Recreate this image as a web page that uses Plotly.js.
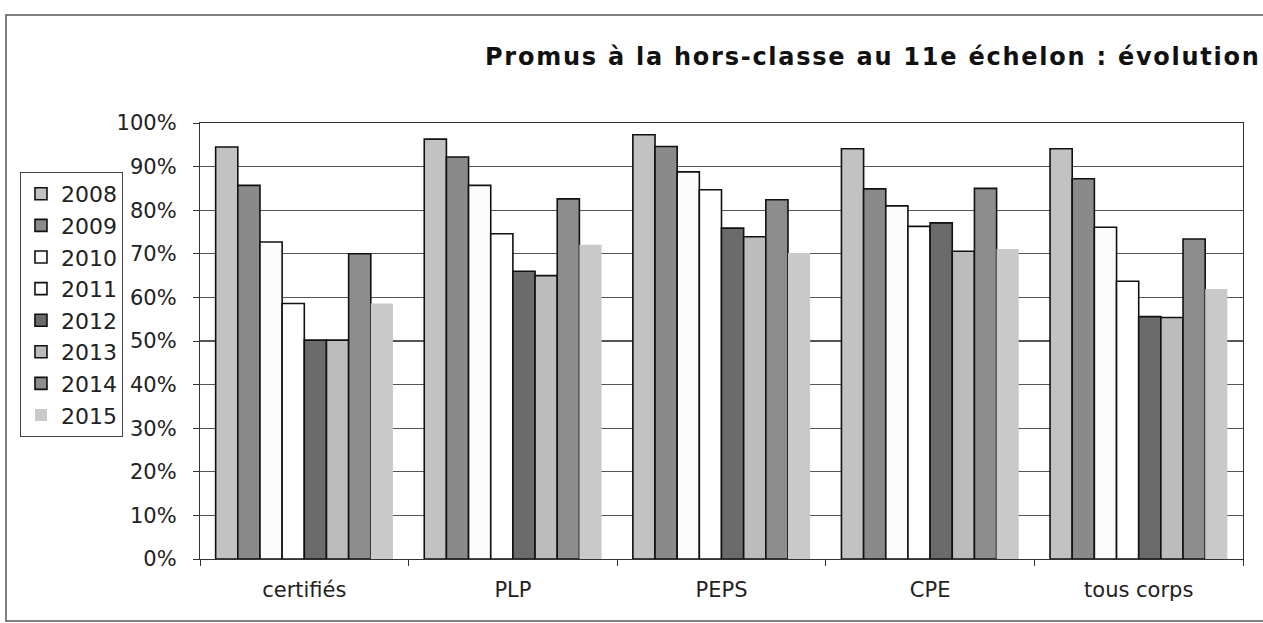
<!DOCTYPE html>
<html>
<head>
<meta charset="utf-8">
<script src="https://cdn.plot.ly/plotly-3.0.1.min.js"></script>
<style>html,body{margin:0;padding:0;background:#fff;}#chart{width:1263px;height:623px;}
#chart .gtitle{letter-spacing:1.75px;}</style>
</head>
<body>
<div id="chart"></div>
<script>
const categories = ["certifiés", "PLP", "PEPS", "CPE", "tous corps"];
const years = ["2008", "2009", "2010", "2011", "2012", "2013", "2014", "2015"];
const v2008 = [0.945, 0.963, 0.973, 0.941, 0.941];
const v2009 = [0.857, 0.922, 0.946, 0.849, 0.872];
const v2010 = [0.727, 0.857, 0.888, 0.810, 0.761];
const v2011 = [0.586, 0.746, 0.847, 0.763, 0.637];
const v2012 = [0.502, 0.660, 0.759, 0.771, 0.556];
const v2013 = [0.502, 0.650, 0.739, 0.706, 0.554];
const v2014 = [0.700, 0.826, 0.824, 0.850, 0.734];
const v2015 = [0.586, 0.721, 0.702, 0.711, 0.619];
const seriesValues = [v2008, v2009, v2010, v2011, v2012, v2013, v2014, v2015];
const fillColors = ["#c2c2c2", "#8a8a8a", "#fcfcfc", "#ffffff", "#6b6b6b", "#bcbcbc", "#8d8d8d", "#c9c9c9"];
const outlineWidths = [1.6, 1.6, 1.6, 1.6, 1.6, 1.6, 1.6, 0];

const FONT = "DejaVu Sans, Liberation Sans, Arial, sans-serif";

const traces = years.map((y, i) => ({
  type: "bar",
  name: y,
  x: categories,
  y: seriesValues[i],
  marker: { color: fillColors[i], line: { color: "#111", width: outlineWidths[i] } },
  hoverinfo: "x+y+name"
}));

const layout = {
  width: 1263,
  height: 623,
  margin: { l: 200, r: 20, t: 123, b: 64, pad: 0 },
  paper_bgcolor: "#fff",
  plot_bgcolor: "#fff",
  font: { family: FONT, size: 21, color: "#222" },
  title: {
    text: "<b>Promus à la hors-classe au 11e échelon : évolution</b>",
    font: { family: FONT, size: 24, color: "#111" },
    x: 485 / 1263, xanchor: "left", xref: "container",
    y: 1 - 57 / 623, yanchor: "middle", yref: "container"
  },
  barmode: "group",
  bargap: 0.15,
  bargroupgap: 0,
  showlegend: true,
  legend: {
    x: -0.1726, xanchor: "left", y: 0.8876, yanchor: "top",
    bgcolor: "#fff", bordercolor: "#444", borderwidth: 1,
    font: { family: FONT, size: 22, color: "#222" },
    itemwidth: 30,
    traceorder: "normal"
  },
  xaxis: {
    type: "category",
    showline: true, linecolor: "#333", linewidth: 1.2, mirror: true,
    ticks: "outside", tickson: "boundaries", ticklen: 6, tickcolor: "#333",
    showgrid: false,
    tickfont: { family: FONT, size: 21, color: "#222" },
    ticklabelstandoff: 12,
    fixedrange: true
  },
  yaxis: {
    range: [0, 1],
    dtick: 0.1,
    tickformat: ".0%",
    showline: true, linecolor: "#333", linewidth: 1.2, mirror: true,
    ticks: "outside", ticklen: 6, tickcolor: "#333",
    showgrid: true, gridcolor: "#555", gridwidth: 1.2,
    zeroline: false,
    tickfont: { family: FONT, size: 21, color: "#222" },
    ticklabelstandoff: 12,
    fixedrange: true
  },
  shapes: [
    { type: "rect", xref: "paper", yref: "paper",
      x0: (6 - 200) / 1043, x1: (1320 - 200) / 1043,
      y0: (559 - 621) / 436, y1: (559 - 15) / 436,
      line: { color: "#555", width: 1.5 }, fillcolor: "rgba(0,0,0,0)", layer: "below" }
  ]
};

Plotly.newPlot("chart", traces, layout, { displayModeBar: false, staticPlot: true });
</script>
</body>
</html>
